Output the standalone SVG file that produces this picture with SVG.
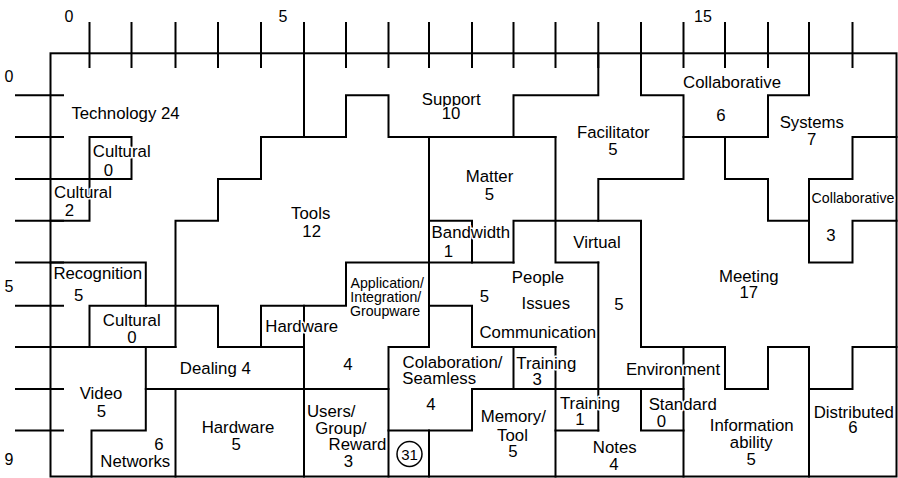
<svg xmlns="http://www.w3.org/2000/svg" width="898" height="478" viewBox="0 0 898 478">
<style>
.ln{fill:none;stroke:#000;stroke-width:2;stroke-linejoin:miter;stroke-linecap:square}
.tk{fill:none;stroke:#000;stroke-width:2}
.t{font-family:"Liberation Sans",Arial,sans-serif;font-size:16.8px;text-anchor:middle;fill:#000;stroke:#fff;stroke-width:3;paint-order:stroke;stroke-linejoin:round}
.s{font-size:14.2px}
.ax{font-family:"Liberation Sans",Arial,sans-serif;font-size:16px;text-anchor:middle;fill:#000}
</style>
<rect width="898" height="478" fill="#fff"/>
<g id="axes">
<path class="tk" d="M89.5,22V68M131.5,22V68M175.5,22V68M218,22V68M261,22V68M304,22V68M346,22V68M388.5,22V68M429,22V68M472,22V68M513.5,22V68M555.5,22V68M598.3,22V68M641,22V68M683.5,22V68M725,22V68M768,22V68M809,22V68M852.5,22V68"/>
<path class="tk" d="M15,95.3H64M15,137H64M15,179H64M15,220.7H64M15,262.5H64M15,305.7H64M15,347H64M15,389H64M15,430.5H64"/>
<text class="ax" x="69" y="22">0</text>
<text class="ax" x="283" y="22">5</text>
<text class="ax" x="703" y="22">15</text>
<text class="ax" x="9" y="82">0</text>
<text class="ax" x="9" y="292">5</text>
<text class="ax" x="9" y="465">9</text>
</g>
<g id="region-borders">
<rect class="ln" x="50.5" y="53.3" width="846" height="423.2"/>
<path class="ln" d="M304,53.3V137"/>
<path class="ln" d="M346,137H261V179H218V220.7H175.5V347"/>
<path class="ln" d="M346,137V95.3H388.5V137H555.5"/>
<path class="ln" d="M513.5,137V95.3H598.3V53.3"/>
<path class="ln" d="M429,137V347"/>
<path class="ln" d="M50.5,220.7H89.5V137H131.5V179H50.5"/>
<path class="ln" d="M50.5,262.5H145.8V305.7"/>
<path class="ln" d="M89.5,347V305.7H218V347"/>
<path class="ln" d="M50.5,347H175.5"/>
<path class="ln" d="M218,347H304"/>
<path class="ln" d="M261,347V305.7H346V262.5H513.5"/>
<path class="ln" d="M304,305.7V476.5"/>
<path class="ln" d="M145.8,347V430.5H91.5V476.5"/>
<path class="ln" d="M145.8,389H388.5"/>
<path class="ln" d="M175.5,389V476.5"/>
<path class="ln" d="M388.5,476.5V347H429"/>
<path class="ln" d="M429,305.7H472V347H555.5"/>
<path class="ln" d="M513.5,347V389"/>
<path class="ln" d="M555.5,347V476.5"/>
<path class="ln" d="M472,389H683.5"/>
<path class="ln" d="M472,389V430.5H388.5"/>
<path class="ln" d="M429,430.5V476.5"/>
<path class="ln" d="M555.5,430.5H598.3"/>
<path class="ln" d="M598.3,262.5V430.5"/>
<path class="ln" d="M641,389V430.5H683.5"/>
<path class="ln" d="M683.5,347V476.5"/>
<path class="ln" d="M429,220.7H472V262.5"/>
<path class="ln" d="M513.5,262.5V220.7H641V347"/>
<path class="ln" d="M555.5,137V262.5H598.3"/>
<path class="ln" d="M598.3,220.7V179H683.5V95.3H641V53.3"/>
<path class="ln" d="M683.5,137H768V95.3H809V53.3"/>
<path class="ln" d="M725,137V179H768V220.7H809"/>
<path class="ln" d="M809,179V262.5H852.5V220.7H896.5"/>
<path class="ln" d="M809,179H852.5V137H896.5"/>
<path class="ln" d="M641,347H725V389H768V347H809V476.5"/>
<path class="ln" d="M809,389H852.5V347H896.5"/>
</g>
<g id="technology"><text class="t" x="125.5" y="119.3">Technology 24</text></g>
<g id="cultural-0a"><text class="t" x="121.7" y="156.7">Cultural</text><text class="t" x="108.3" y="176">0</text></g>
<g id="cultural-2"><text class="t" x="83" y="197.7">Cultural</text><text class="t" x="69.5" y="215.7">2</text></g>
<g id="tools"><text class="t" x="310.7" y="219">Tools</text><text class="t" x="311.7" y="236.7">12</text></g>
<g id="support"><text class="t" x="451.2" y="105">Support</text><text class="t" x="451" y="119.3">10</text></g>
<g id="collaborative-6"><text class="t" x="732" y="88.3">Collaborative</text><text class="t" x="721" y="120.7">6</text></g>
<g id="facilitator"><text class="t" x="613.3" y="138.3">Facilitator</text><text class="t" x="613" y="155">5</text></g>
<g id="systems"><text class="t" x="811.8" y="128.3">Systems</text><text class="t" x="811.7" y="145">7</text></g>
<g id="matter"><text class="t" x="489.5" y="181.7">Matter</text><text class="t" x="489.5" y="200">5</text></g>
<g id="bandwidth"><text class="t" x="470.8" y="238.3">Bandwidth</text><text class="t" x="448.3" y="256.7">1</text></g>
<g id="virtual"><text class="t" x="597" y="248.3">Virtual</text><text class="t" x="619" y="310">5</text><text class="t" x="673" y="375">Environment</text></g>
<g id="collaborative-3"><text class="t s" x="853" y="202.7">Collaborative</text><text class="t" x="831" y="240.7">3</text></g>
<g id="recognition"><text class="t" x="97.7" y="279.3">Recognition</text><text class="t" x="78.7" y="300.7">5</text></g>
<g id="people-issues"><text class="t" x="484.5" y="301.7">5</text><text class="t" x="538" y="282.7">People</text><text class="t" x="545.8" y="309">Issues</text><text class="t" x="537.8" y="338.3">Communication</text></g>
<g id="meeting"><text class="t" x="748.8" y="281.7">Meeting</text><text class="t" x="748.8" y="298.3">17</text></g>
<g id="application"><text class="t s" x="387.2" y="288.3">Application/</text><text class="t s" x="385.8" y="302.3">Integration/</text><text class="t s" x="385" y="315.7">Groupware</text><text class="t" x="347.8" y="370">4</text></g>
<g id="hardware-a"><text class="t" x="301.7" y="331.7">Hardware</text></g>
<g id="cultural-0b"><text class="t" x="131.7" y="326">Cultural</text><text class="t" x="131.8" y="342.7">0</text></g>
<g id="dealing"><text class="t" x="215.3" y="374.3">Dealing 4</text></g>
<g id="colaboration"><text class="t" x="452.5" y="368.3">Colaboration/</text><text class="t" x="439.2" y="384">Seamless</text><text class="t" x="430.8" y="410">4</text></g>
<g id="training-3"><text class="t" x="546.3" y="368.5">Training</text><text class="t" x="537.2" y="385">3</text></g>
<g id="video"><text class="t" x="101" y="399.3">Video</text><text class="t" x="101.3" y="416.7">5</text></g>
<g id="training-1"><text class="t" x="590" y="409">Training</text><text class="t" x="580" y="425">1</text></g>
<g id="standard"><text class="t" x="682.7" y="410">Standard</text><text class="t" x="661.3" y="426.7">0</text></g>
<g id="memory-tool"><text class="t" x="513.3" y="421.7">Memory/</text><text class="t" x="512.5" y="441">Tool</text><text class="t" x="512.8" y="456.7">5</text></g>
<g id="users"><text class="t" x="331.2" y="417">Users/</text><text class="t" x="340.8" y="434">Group/</text><text class="t" x="357.5" y="450">Reward</text><text class="t" x="348.3" y="467.3">3</text></g>
<g id="hardware-b"><text class="t" x="238" y="433.3">Hardware</text><text class="t" x="236.2" y="450">5</text></g>
<g id="networks"><text class="t" x="158.8" y="450">6</text><text class="t" x="135.3" y="466.7">Networks</text></g>
<g id="notes"><text class="t" x="614.7" y="453.3">Notes</text><text class="t" x="613.8" y="470">4</text></g>
<g id="information"><text class="t" x="751.7" y="431">Information</text><text class="t" x="751.3" y="448.3">ability</text><text class="t" x="751.2" y="465">5</text></g>
<g id="distributed"><text class="t" x="853.8" y="418.3">Distributed</text><text class="t" x="853" y="433.3">6</text></g>
<g id="marker-31"><circle cx="409.5" cy="454" r="12.5" fill="none" stroke="#000" stroke-width="1.5"/><text class="t" style="font-size:15px" x="409.5" y="459.5">31</text></g>
</svg>
